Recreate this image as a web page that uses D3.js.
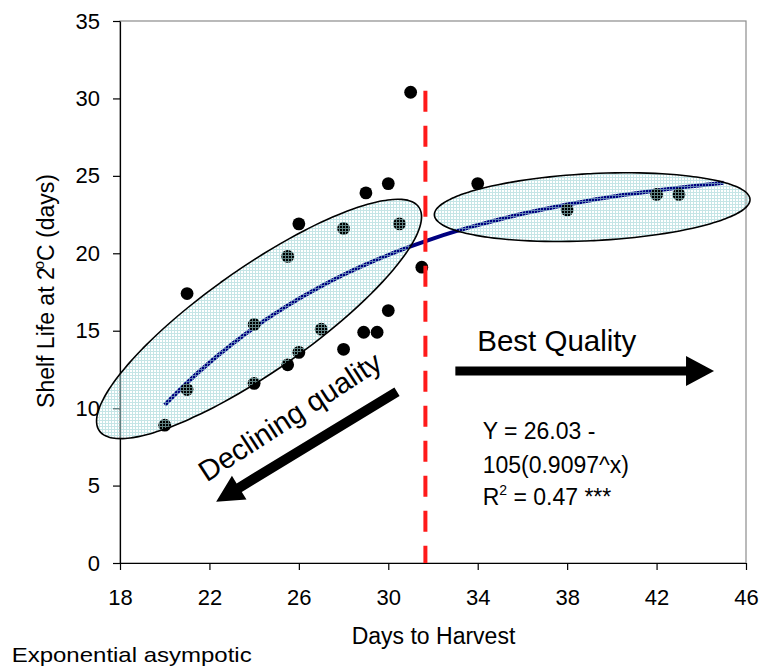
<!DOCTYPE html>
<html>
<head>
<meta charset="utf-8">
<script src="https://cdn.jsdelivr.net/npm/d3@7"></script>
<style>
  body { margin: 0; background: #fff; }
  text { font-family: "Liberation Sans", Arial, sans-serif; fill: #000; }
</style>
</head>
<body>
<div id="chart"></div>
<script>
// axis ticks
const xTicks = [18, 22, 26, 30, 34, 38, 42, 46];
const yTicks = [0, 5, 10, 15, 20, 25, 30, 35];

// observed shelf life vs days to harvest
const harvestDays = [20.0, 21.0, 21.0, 24.0, 24.0, 25.5, 25.5, 26.0, 26.0, 27.0, 28.0, 28.0,
                     29.0, 28.9, 29.5, 30.0, 30.0, 30.5, 31.0, 31.5, 34.0, 38.0, 42.0, 43.0];
const shelfLife   = [8.9, 17.4, 11.2, 11.6, 15.4, 19.8, 12.8, 13.6, 21.9, 15.1, 21.6, 13.8,
                     23.9, 14.9, 14.9, 24.5, 16.3, 21.9, 30.4, 19.1, 24.5, 22.8, 23.8, 23.8];

// fitted curve
const fitDays = [20, 21, 22, 23, 24, 25, 26, 27, 28, 29, 30, 31, 32,
                 33, 34, 35, 36, 37, 38, 39, 40, 41, 42, 43, 44, 45];
const fitShelfLife = [10.21, 11.64, 12.94, 14.12, 15.20, 16.17, 17.06, 17.87, 18.61, 19.28, 19.89, 20.44, 20.95,
                      21.41, 21.82, 22.20, 22.55, 22.86, 23.15, 23.41, 23.65, 23.86, 24.06, 24.24, 24.40, 24.55];

const cutoffDay = 31.66;

const width = 761, height = 669;
const margin = { top: 21, right: 15, bottom: 106, left: 120 };
const innerW = width - margin.left - margin.right;
const innerH = height - margin.top - margin.bottom;

const x = d3.scaleLinear().domain([18, 46]).range([0, innerW]);
const y = d3.scaleLinear().domain([0, 35]).range([innerH, 0]);

const svg = d3.select("#chart").append("svg")
  .attr("width", width)
  .attr("height", height);

// fine grid hatch used for the ellipses
const pat = svg.append("defs").append("pattern")
  .attr("id", "hatch")
  .attr("patternUnits", "userSpaceOnUse")
  .attr("width", 3).attr("height", 3);
pat.append("rect").attr("x", 0).attr("y", 0).attr("width", 3).attr("height", 1)
  .attr("fill", "#9fd3d6").attr("fill-opacity", 0.6);
pat.append("rect").attr("x", 0).attr("y", 1).attr("width", 1).attr("height", 2)
  .attr("fill", "#9fd3d6").attr("fill-opacity", 0.6);

const g = svg.append("g").attr("transform", `translate(${margin.left},${margin.top})`);

// plot frame
g.append("rect")
  .attr("width", innerW).attr("height", innerH)
  .attr("fill", "none").attr("stroke", "#8c8c8c").attr("stroke-width", 1.2);

// axes
const xAxis = g.append("g")
  .attr("transform", `translate(0,${innerH})`)
  .call(d3.axisBottom(x).tickValues(xTicks).tickSize(7).tickSizeOuter(0).tickPadding(19));
const yAxis = g.append("g")
  .call(d3.axisLeft(y).tickValues(yTicks).tickSize(7).tickSizeOuter(0).tickPadding(13));
[xAxis, yAxis].forEach(a => {
  a.selectAll("text").style("font-size", "22px").attr("fill", "#000")
    .style("font-family", "'Liberation Sans', Arial, sans-serif");
  a.selectAll("line, path").attr("stroke", "#000").attr("stroke-width", 1.2);
});

// fitted curve
const fit = fitDays.map((d, i) => ({ d: d, v: fitShelfLife[i] }));
g.append("path")
  .datum(fit)
  .attr("fill", "none")
  .attr("stroke", "#000080")
  .attr("stroke-width", 4)
  .attr("d", d3.line().x(p => x(p.d)).y(p => y(p.v)).curve(d3.curveMonotoneX));

// points
const pts = harvestDays.map((d, i) => ({ d: d, v: shelfLife[i] }));
g.selectAll("circle.pt")
  .data(pts)
  .join("circle")
  .attr("class", "pt")
  .attr("cx", p => x(p.d))
  .attr("cy", p => y(p.v))
  .attr("r", 6.4)
  .attr("fill", "#000");

// ellipses (centre in data units, semi axes in px, angle in degrees)
const ellipses = [
  { day: 24.22, val: 15.76, a: 195, b: 52, angle: -35 },
  { day: 39.12, val: 22.98, a: 158, b: 33.5, angle: -2.85 }
];
ellipses.forEach(e => {
  const cx = x(e.day), cy = y(e.val), t = e.angle * Math.PI / 180;
  const ring = d3.range(0, 360, 3).map(k => {
    const s = k * Math.PI / 180;
    const ex = e.a * Math.cos(s), ey = e.b * Math.sin(s);
    return [cx + ex * Math.cos(t) - ey * Math.sin(t), cy + ex * Math.sin(t) + ey * Math.cos(t)];
  });
  g.append("path")
    .attr("d", d3.line().curve(d3.curveCardinalClosed)(ring))
    .attr("fill", "url(#hatch)")
    .attr("stroke", "#000")
    .attr("stroke-width", 1.6);
});

// cut-off line
g.append("line")
  .attr("x1", x(cutoffDay)).attr("x2", x(cutoffDay))
  .attr("y1", y(30.5)).attr("y2", innerH)
  .attr("stroke", "#ff1a1a")
  .attr("stroke-width", 4)
  .attr("stroke-dasharray", "21,14");

// block arrows
function arrow(from, to, shaft, headLen, headHalf) {
  const sx = x(from[0]), sy = y(from[1]), tx = x(to[0]), ty = y(to[1]);
  const len = Math.hypot(tx - sx, ty - sy);
  const ux = (tx - sx) / len, uy = (ty - sy) / len;
  const nx = -uy, ny = ux;
  const bx = tx - ux * headLen, by = ty - uy * headLen;
  const pts = [
    [sx + nx * shaft / 2, sy + ny * shaft / 2],
    [bx + nx * shaft / 2, by + ny * shaft / 2],
    [bx + nx * headHalf, by + ny * headHalf],
    [tx, ty],
    [bx - nx * headHalf, by - ny * headHalf],
    [bx - nx * shaft / 2, by - ny * shaft / 2],
    [sx - nx * shaft / 2, sy - ny * shaft / 2]
  ];
  g.append("polygon").attr("points", pts.map(p => p.join(",")).join(" ")).attr("fill", "#000");
}
arrow([33.0, 12.4], [44.57, 12.4], 9, 28, 15);
arrow([30.39, 11.06], [22.3, 3.96], 10, 27, 14);

// annotations
g.append("text")
  .attr("x", x(33.98)).attr("y", y(13.7))
  .style("font-size", "29.5px")
  .text("Best Quality");

g.append("text")
  .attr("transform", `translate(${x(25.84)},${y(8.91)}) rotate(-33)`)
  .attr("text-anchor", "middle")
  .style("font-size", "29px")
  .text("Declining quality");

const eq = g.append("text").style("font-size", "23px");
eq.append("tspan").attr("x", x(34.22)).attr("y", y(8.0)).text("Y = 26.03 -");
eq.append("tspan").attr("x", x(34.22)).attr("y", y(5.81)).text("105(0.9097^x)");
eq.append("tspan").attr("x", x(34.22)).attr("y", y(3.74)).text("R");
eq.append("tspan").attr("dy", -10).style("font-size", "14px").text("2");
eq.append("tspan").attr("dy", 10).text(" = 0.47 ***");

// axis titles
const yTitle = svg.append("text")
  .attr("transform", "translate(54,291) rotate(-90)")
  .attr("text-anchor", "middle")
  .style("font-size", "23px");
yTitle.append("tspan").text("Shelf Life at 2");
yTitle.append("tspan").attr("dy", -10).attr("dx", -2).style("font-size", "15px").text("o");
yTitle.append("tspan").attr("dy", 10).text("C (days)");

svg.append("text")
  .attr("x", 433.5).attr("y", 644)
  .attr("text-anchor", "middle")
  .style("font-size", "23px")
  .text("Days to Harvest");

svg.append("text")
  .attr("x", 11.7).attr("y", 661.7)
  .style("font-size", "21px")
  .attr("textLength", 240)
  .attr("lengthAdjust", "spacingAndGlyphs")
  .text("Exponential asympotic");
</script>
</body>
</html>
